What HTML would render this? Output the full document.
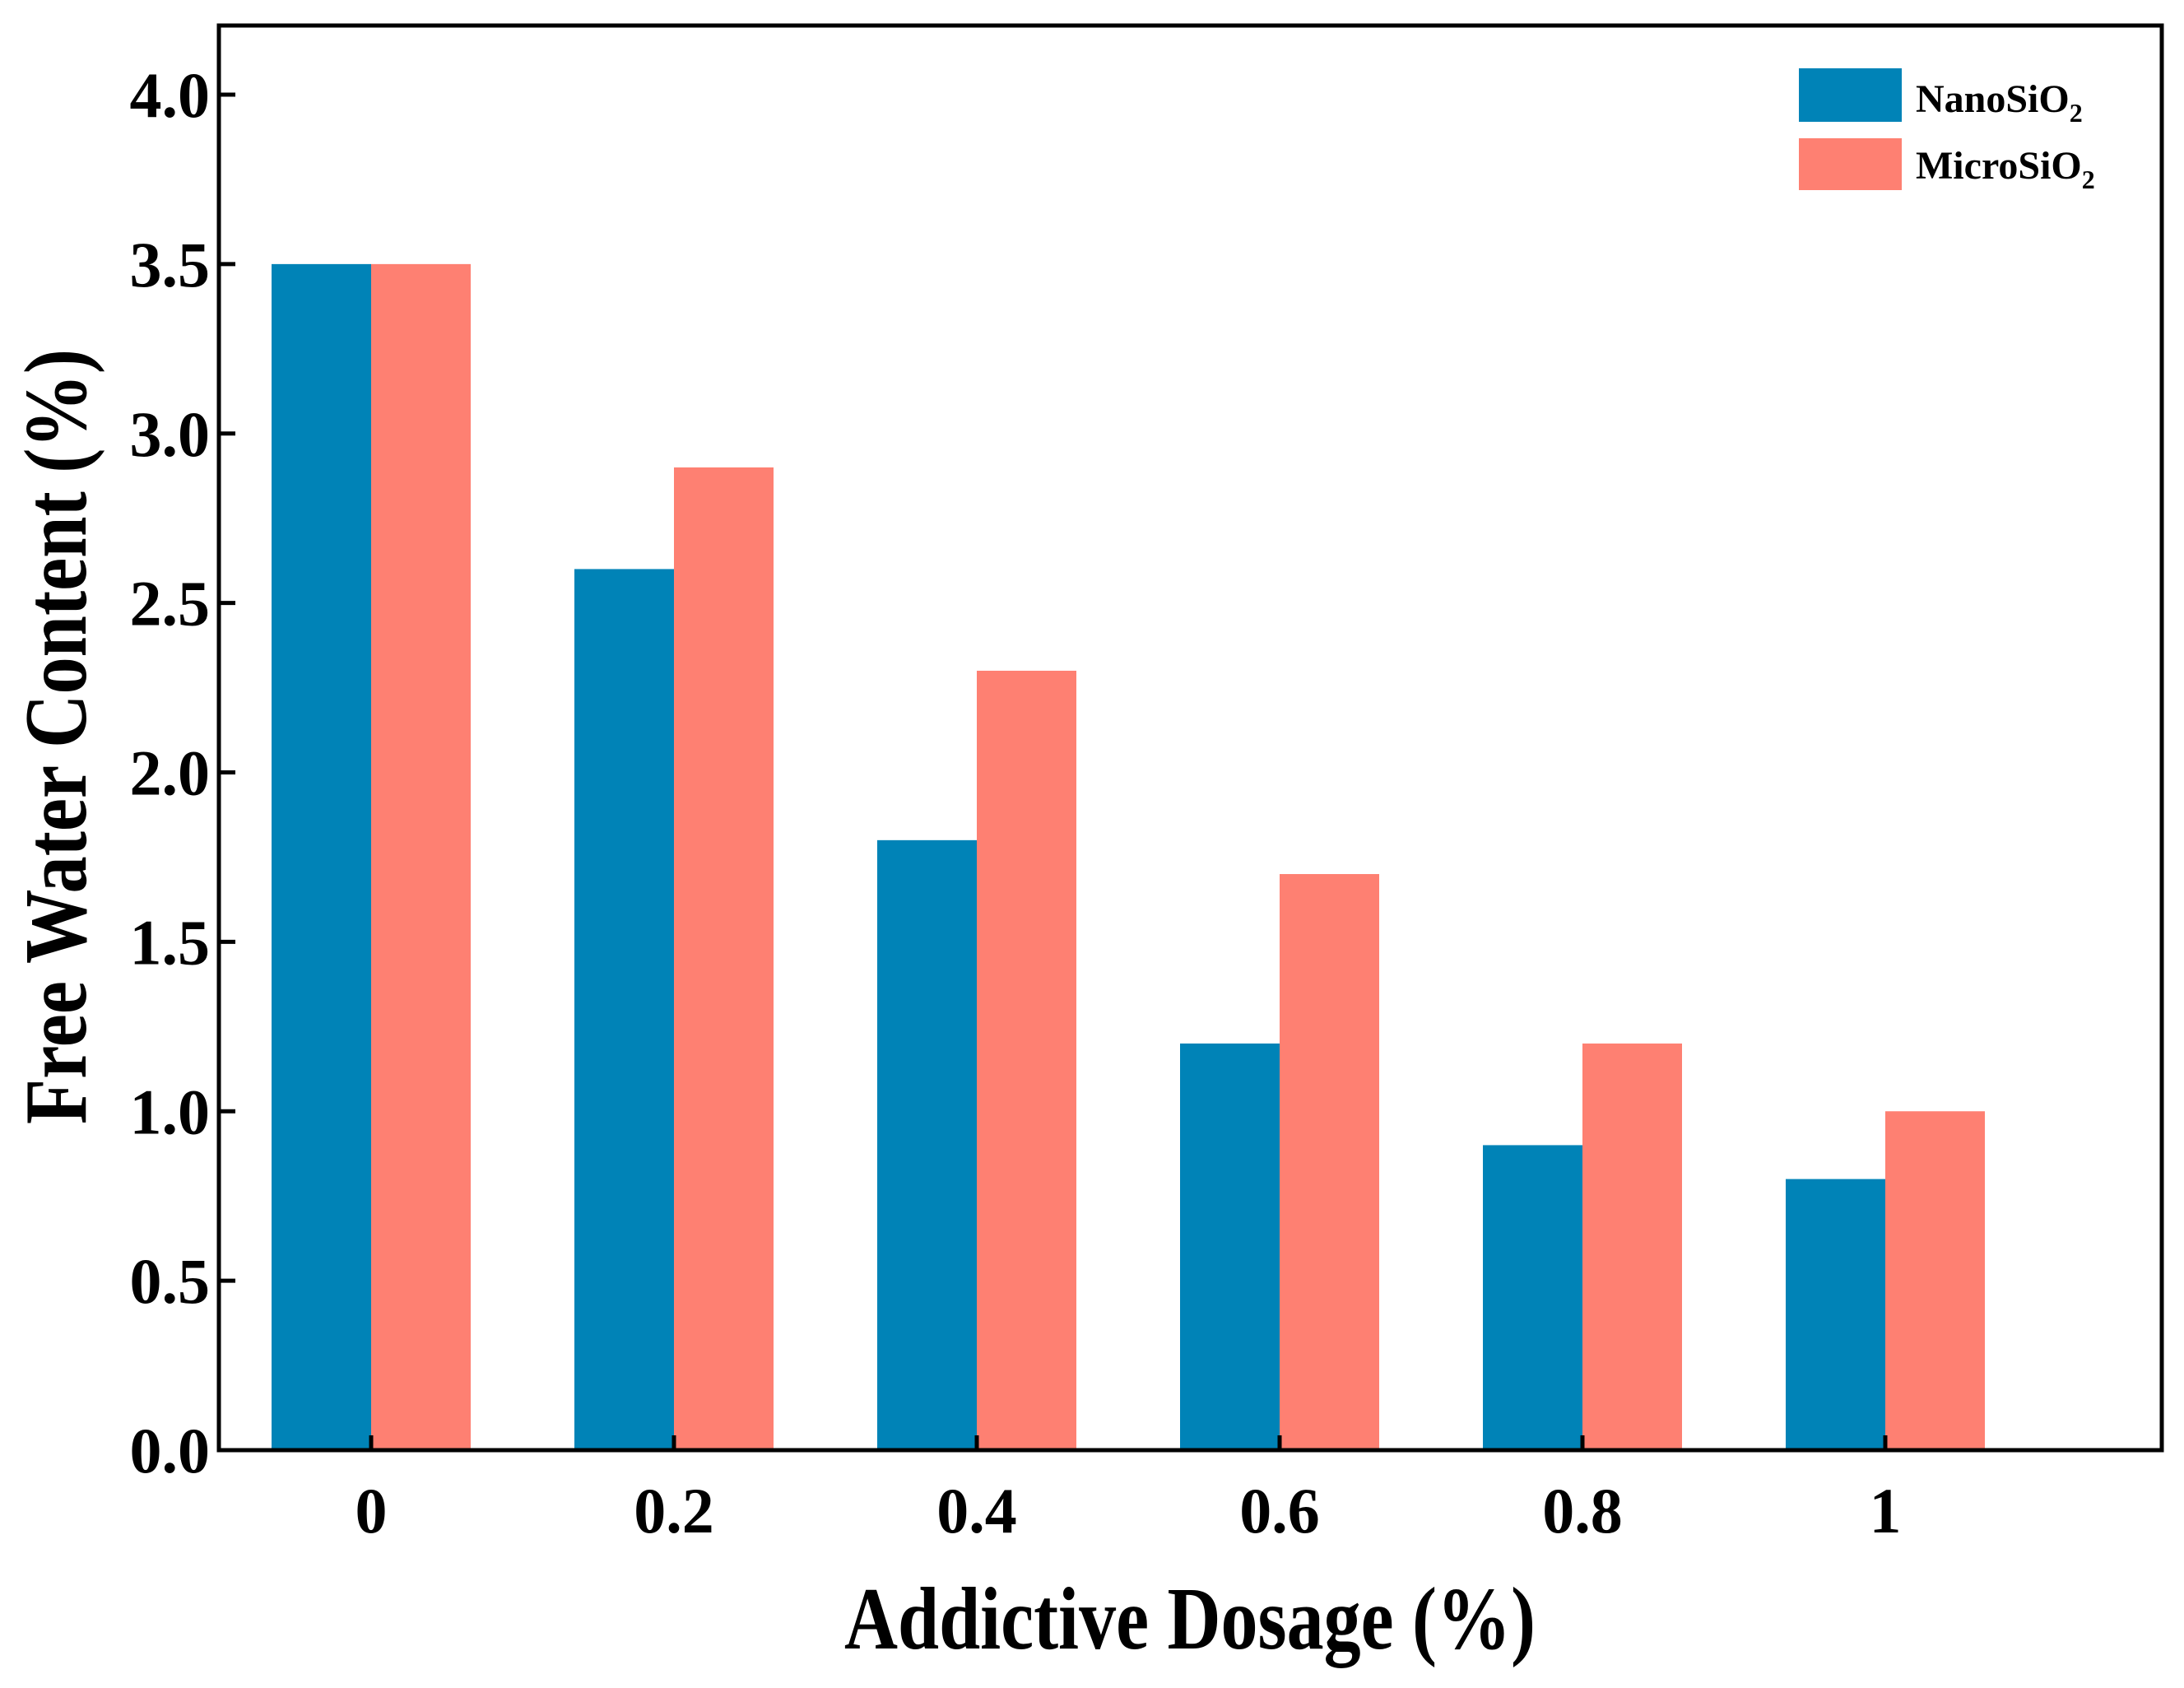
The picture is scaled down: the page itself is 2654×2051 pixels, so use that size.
<!DOCTYPE html>
<html><head><meta charset="utf-8"><style>body{margin:0;background:#fff}svg{display:block}</style></head>
<body>
<svg id="chart" width="2654" height="2051" xmlns="http://www.w3.org/2000/svg" font-family="'Liberation Serif', serif" font-weight="bold">
<g id="bars"></g>
<g id="axes"></g>
<g>
<rect x="2186" y="83" width="125" height="65" fill="#0083b7"/>
<text x="2328" y="136" font-size="48">NanoSiO<tspan font-size="32" dy="12">2</tspan></text>
<rect x="2186" y="168" width="125" height="63" fill="#fe8072"/>
<text x="2328" y="217" font-size="48">MicroSiO<tspan font-size="32" dy="12">2</tspan></text>
</g>
<text x="1446" y="2003" font-size="108" text-anchor="middle" textLength="840" lengthAdjust="spacingAndGlyphs">Addictive Dosage (%)</text>
<text transform="translate(104,895) rotate(-90)" font-size="108" text-anchor="middle" textLength="942" lengthAdjust="spacingAndGlyphs">Free Water Content (%)</text>
</svg>
<script>
const categories = ["0","0.2","0.4","0.6","0.8","1"];
const nanoValues = [3.5,2.6,1.8,1.2,0.9,0.8];
const microValues = [3.5,2.9,2.3,1.7,1.2,1.0];
const yTicks = ["0.0","0.5","1.0","1.5","2.0","2.5","3.0","3.5","4.0"];

const SVGNS="http://www.w3.org/2000/svg";
const plotLeft=266,plotRight=2627,plotTop=31,plotBottom=1762;
const yZero=1762, yFour=115;
function yScale(v){return yZero-(v/4)*(yZero-yFour);}
function xScale(i){return 451+i*368;}
const barW=121;
const barsG=document.getElementById('bars');
const axesG=document.getElementById('axes');
function mk(tag,attrs,parent){const e=document.createElementNS(SVGNS,tag);for(const k in attrs)e.setAttribute(k,attrs[k]);parent.appendChild(e);return e;}
categories.forEach((c,i)=>{
  const cx=xScale(i);
  const b1=mk('rect',{x:cx-barW,y:yScale(nanoValues[i]),width:barW,height:yZero-yScale(nanoValues[i]),fill:'#0083b7'},barsG);
  
  
  const b2=mk('rect',{x:cx,y:yScale(microValues[i]),width:barW,height:yZero-yScale(microValues[i]),fill:'#fe8072'},barsG);
  
  
  const t=mk('line',{x1:cx,x2:cx,y1:plotBottom,y2:plotBottom-18,stroke:'#000','stroke-width':5},axesG);
  
  
  const l=mk('text',{x:cx,y:1862,'font-size':78,'text-anchor':'middle'},axesG);
  l.textContent=c;
  
  
});
yTicks.forEach(s=>{
  const v=parseFloat(s),y=yScale(v);
  const t=mk('line',{x1:plotLeft,x2:plotLeft+20,y1:y,y2:y,stroke:'#000','stroke-width':5},axesG);
  
  
  const l=mk('text',{x:255,y:y+27,'font-size':78,'text-anchor':'end'},axesG);
  l.textContent=s;
  
  
});
const frame=mk('rect',{x:plotLeft,y:plotTop,width:plotRight-plotLeft,height:plotBottom-plotTop,fill:'none',stroke:'#000','stroke-width':5},axesG);


</script>
</body></html>
